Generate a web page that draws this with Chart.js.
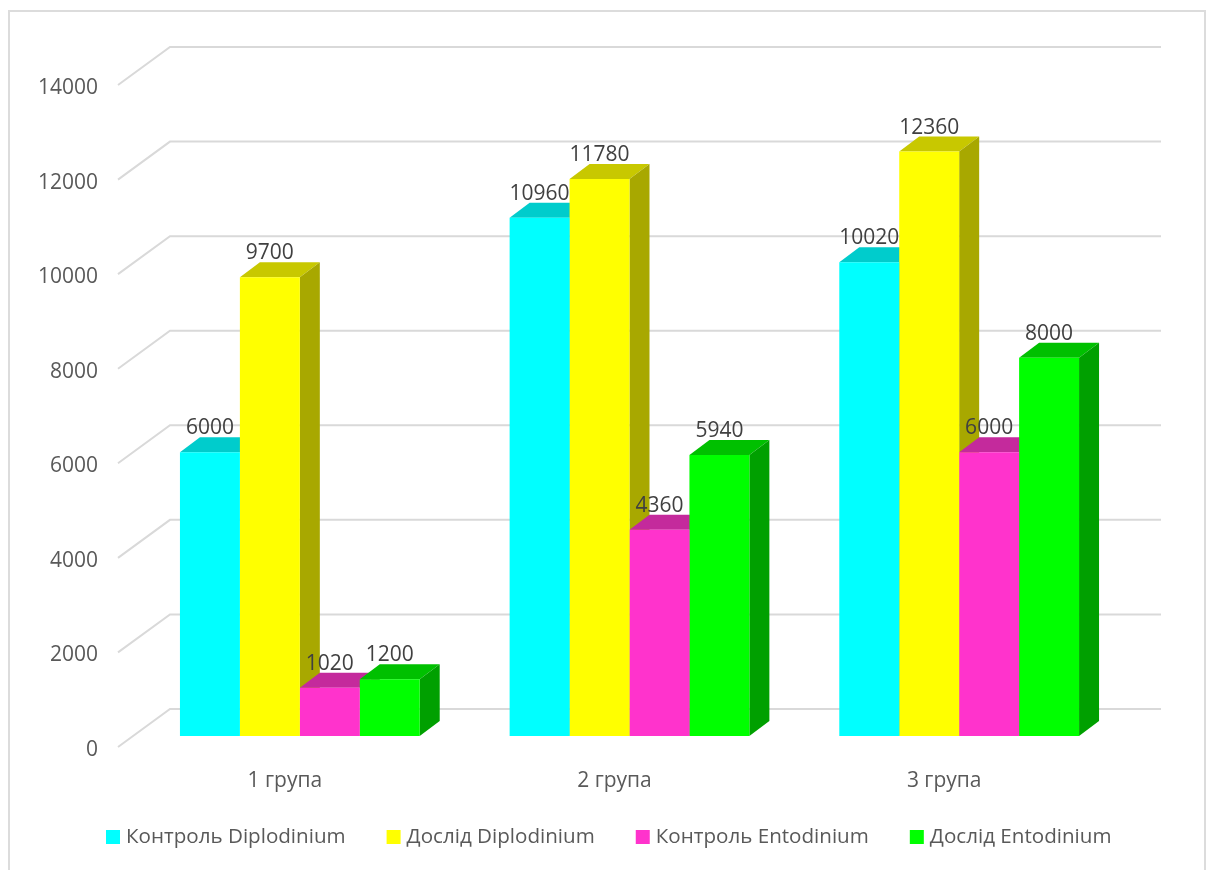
<!DOCTYPE html>
<html>
<head>
<meta charset="utf-8">
<title>Diplodinium / Entodinium</title>
<script src="https://cdn.jsdelivr.net/npm/chart.js@4/dist/chart.umd.min.js"></script>
<style>
  html, body { margin: 0; padding: 0; background: #fff; overflow: hidden; }
  #frame {
    position: absolute; left: 8px; top: 10px; width: 1194px; height: 860px;
    border: 2px solid #dcdcdc; border-bottom: none;
  }
  #chart { position: absolute; left: 0; top: 0; }
</style>
</head>
<body>
<div id="frame"></div>
<canvas id="chart" width="1211" height="870"></canvas>
<script>
const categories = ['1 група', '2 група', '3 група'];
const seriesNames = ['Контроль Diplodinium', 'Дослід Diplodinium', 'Контроль Entodinium', 'Дослід Entodinium'];
const controlDiplodinium = [6000, 10960, 10020];
const testDiplodinium = [9700, 11780, 12360];
const controlEntodinium = [1020, 4360, 6000];
const testEntodinium = [1200, 5940, 8000];

const frontColors = ['#00ffff', '#ffff00', '#ff33cc', '#00ff00'];
const topColors = ['#00cccc', '#c8c800', '#c42a9c', '#00c000'];
const sideColors = ['#00a8a8', '#a8a800', '#a02080', '#00a000'];

const DEPTH_X = 20, DEPTH_Y = 15;
const FONT = '"Open Sans", sans-serif';
const FONT_SIZE = 21;
const LEGEND_FONT_SIZE = 20.6;

function polygon(ctx, color, pts) {
  ctx.fillStyle = color;
  ctx.beginPath();
  pts.forEach((p, i) => (i ? ctx.lineTo(p[0], p[1]) : ctx.moveTo(p[0], p[1])));
  ctx.closePath();
  ctx.fill();
}

// floor and wall lines of the 3D box
const wallGrid = {
  id: 'wallGrid',
  beforeDatasetsDraw(chart) {
    const { ctx, scales: { y } } = chart;
    ctx.save();
    ctx.strokeStyle = '#d9d9d9';
    ctx.lineWidth = 2;
    y.ticks.forEach((t) => {
      const p = y.getPixelForValue(t.value);
      ctx.beginPath();
      ctx.moveTo(118, p + 11);
      ctx.lineTo(170, p - 27);
      ctx.lineTo(1161, p - 27);
      ctx.stroke();
    });
    ctx.restore();
  },
};

// top and side faces, left to right; the library then paints the front faces over them
const barFaces = {
  id: 'barFaces',
  beforeDatasetsDraw(chart) {
    const { ctx } = chart;
    ctx.save();
    chart.data.datasets.forEach((ds, i) => {
      chart.getDatasetMeta(i).data.forEach((bar) => {
        const l = bar.x - bar.width / 2, r = bar.x + bar.width / 2;
        polygon(ctx, topColors[i], [[l, bar.y], [l + DEPTH_X, bar.y - DEPTH_Y], [r + DEPTH_X, bar.y - DEPTH_Y], [r, bar.y]]);
        polygon(ctx, sideColors[i], [[r, bar.y], [r + DEPTH_X, bar.y - DEPTH_Y], [r + DEPTH_X, bar.base - DEPTH_Y], [r, bar.base]]);
      });
    });
    ctx.restore();
  },
};

const valueLabels = {
  id: 'valueLabels',
  afterDatasetsDraw(chart) {
    const { ctx } = chart;
    ctx.save();
    ctx.font = FONT_SIZE + 'px ' + FONT;
    ctx.fillStyle = '#404040';
    ctx.textAlign = 'center';
    ctx.textBaseline = 'middle';
    chart.data.datasets.forEach((ds, i) => {
      chart.getDatasetMeta(i).data.forEach((bar, j) => {
        ctx.fillText(ds.data[j], bar.x, bar.y - 24);
      });
    });
    ctx.restore();
  },
};

const swatchLegend = {
  id: 'swatchLegend',
  afterDraw(chart) {
    const { ctx } = chart;
    const y = 837, box = 14, textGap = 6, itemGap = 41;
    ctx.save();
    ctx.font = LEGEND_FONT_SIZE + 'px ' + FONT;
    ctx.textBaseline = 'middle';
    let x = 106;
    chart.data.datasets.forEach((ds, i) => {
      ctx.fillStyle = frontColors[i];
      ctx.fillRect(x, y - box / 2, box, box);
      ctx.fillStyle = '#595959';
      ctx.fillText(ds.label, x + box + textGap, y);
      x += box + textGap + ctx.measureText(ds.label).width + itemGap;
    });
    ctx.restore();
  },
};

const seriesValues = [controlDiplodinium, testDiplodinium, controlEntodinium, testEntodinium];

new Chart(document.getElementById('chart'), {
  type: 'bar',
  data: {
    labels: categories,
    datasets: seriesNames.map((name, i) => ({
      label: name,
      data: seriesValues[i],
      backgroundColor: frontColors[i],
      borderWidth: 0,
    })),
  },
  options: {
    responsive: false,
    animation: false,
    layout: { padding: { top: 74, right: 87, left: 0, bottom: 0 } },
    datasets: { bar: { barPercentage: 1, categoryPercentage: 240 / 330 } },
    plugins: { legend: { display: false }, tooltip: { enabled: false }, title: { display: false } },
    scales: {
      x: {
        grid: { display: false },
        border: { display: false },
        afterFit(scale) { scale.height = 134; },
        ticks: {
          color: '#595959',
          font: { family: FONT, size: FONT_SIZE },
          padding: 24,
          labelOffset: -15,
          maxRotation: 0,
        },
      },
      y: {
        min: 0,
        max: 14000,
        grid: { display: false },
        border: { display: false },
        afterFit(scale) { scale.width = 135; },
        ticks: {
          stepSize: 2000,
          color: '#595959',
          font: { family: FONT, size: FONT_SIZE },
          padding: 29,
          labelOffset: 14,
          callback: (v) => String(v),
        },
      },
    },
  },
  plugins: [wallGrid, barFaces, valueLabels, swatchLegend],
});
</script>
</body>
</html>
